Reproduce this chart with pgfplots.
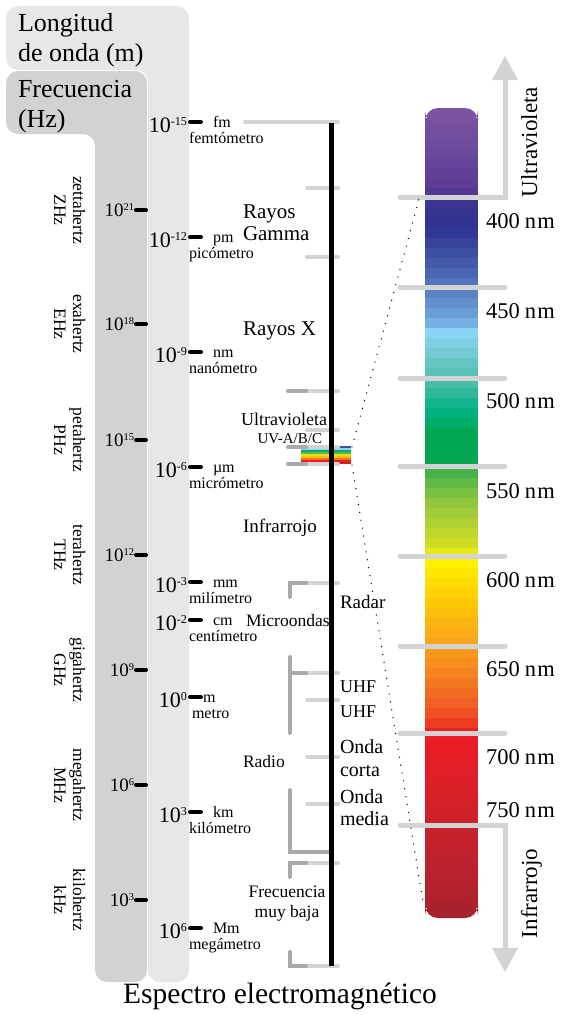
\documentclass[border=0pt]{standalone}
\usepackage{fontspec}
\setmainfont{Liberation Serif}
\usepackage{pgfplots}
\pgfplotsset{compat=1.18}

\definecolor{panelA}{RGB}{230,231,232}
\definecolor{panelB}{RGB}{209,210,212}
\definecolor{tickL}{RGB}{209,211,212}
\definecolor{tickD}{RGB}{167,169,172}
\definecolor{capTop}{RGB}{125,83,161}
\definecolor{capBot}{RGB}{168,34,45}

\newcommand\fsz[2]{\fontsize{#1bp}{#2bp}\selectfont}
\newcommand\sups[1]{\raisebox{0.3em}{\scalebox{0.55}{#1}}}

\tikzset{
  gt/.style={draw=tickL, line width=4bp, line cap=round},
  gd/.style={draw=tickD, line width=4bp, line cap=round},
  bk/.style={draw=black, line width=4bp, line cap=round},
  t/.style={inner sep=0pt, outer sep=0pt},
}

\begin{document}
\begin{tikzpicture}
\begin{axis}[
  scale only axis, width=562bp, height=1015bp,
  xmin=0, xmax=562, ymin=0, ymax=1015, y dir=reverse,
  hide axis, clip=false,
  point meta min=108, point meta max=918,
  colormap={spec}{[1pt]
    rgb255(0pt)=(125,83,161) rgb255(42pt)=(106,74,156) rgb255(82pt)=(91,58,149)
    rgb255(92pt)=(63,53,144) rgb255(119pt)=(46,49,146) rgb255(142pt)=(59,77,160)
    rgb255(167pt)=(75,103,178) rgb255(187pt)=(91,134,197) rgb255(212pt)=(111,166,220)
    rgb255(225pt)=(138,213,247) rgb255(237pt)=(126,207,223) rgb255(254pt)=(102,197,196)
    rgb255(277pt)=(70,190,165) rgb255(302pt)=(0,179,134) rgb255(325pt)=(0,166,81)
    rgb255(354pt)=(0,166,81) rgb255(364pt)=(67,176,74) rgb255(392pt)=(141,198,63)
    rgb255(432pt)=(200,217,43) rgb255(454pt)=(255,242,0) rgb255(492pt)=(255,203,5)
    rgb255(532pt)=(250,166,26) rgb255(567pt)=(245,130,32) rgb255(607pt)=(238,80,36)
    rgb255(627pt)=(237,28,36) rgb255(682pt)=(218,31,40) rgb255(732pt)=(196,34,45)
    rgb255(810pt)=(168,34,45)},
]
% keep the full frame in the bounding box
\addplot[draw=none] coordinates {(0,0) (562,1015)};

% panels
\addplot[fill=panelA, draw=none, rounded corners=12bp] coordinates
  {(100,6) (189,6) (189,982) (148,982) (148,70) (6,70) (6,6) (100,6)};
\addplot[fill=panelB, draw=none, rounded corners=12bp] coordinates
  {(70,71) (147,71) (147,982) (95,982) (95,134) (6,134) (6,71) (70,71)};

\node[t, anchor=base west, font=\fsz{26}{30}] at (18,31) {Longitud};
\node[t, anchor=base west, font=\fsz{26}{30}] at (18,61) {de onda (m)};
\node[t, anchor=base west, font=\fsz{26}{30}] at (18,97) {Frecuencia};
\node[t, anchor=base west, font=\fsz{26}{30}] at (18,127) {(Hz)};

% frequency scale
\addplot[bk] coordinates {(136,210) (146,210)};
\addplot[bk] coordinates {(136,324) (146,324)};
\addplot[bk] coordinates {(136,440) (146,440)};
\addplot[bk] coordinates {(136,555) (146,555)};
\addplot[bk] coordinates {(136,670) (146,670)};
\addplot[bk] coordinates {(136,785) (146,785)};
\addplot[bk] coordinates {(136,900) (146,900)};
\node[t, anchor=base east, font=\fsz{19}{22}] at (134,216) {10\sups{21}};
\node[t, anchor=base east, font=\fsz{19}{22}] at (134,330) {10\sups{18}};
\node[t, anchor=base east, font=\fsz{19}{22}] at (134,446) {10\sups{15}};
\node[t, anchor=base east, font=\fsz{19}{22}] at (134,561) {10\sups{12}};
\node[t, anchor=base east, font=\fsz{19}{22}] at (134,676) {10\sups{9}};
\node[t, anchor=base east, font=\fsz{19}{22}] at (134,791) {10\sups{6}};
\node[t, anchor=base east, font=\fsz{19}{22}] at (134,906) {10\sups{3}};

\tikzset{fq/.style={t, anchor=base, rotate=-90, font=\fsz{17.5}{20}}}
\node[fq] at (73,210) {zettahertz}; \node[fq] at (54,210) {ZHz};
\node[fq] at (73,324) {exahertz};   \node[fq] at (54,324) {EHz};
\node[fq] at (73,440) {petahertz};  \node[fq] at (54,440) {PHz};
\node[fq] at (73,555) {terahertz};  \node[fq] at (54,555) {THz};
\node[fq] at (73,670) {gigahertz};  \node[fq] at (54,670) {GHz};
\node[fq] at (73,785) {megahertz};  \node[fq] at (54,785) {MHz};
\node[fq] at (73,900) {kilohertz};  \node[fq] at (54,900) {kHz};

% wavelength scale
\addplot[bk] coordinates {(190,122) (201,122)};
\addplot[bk] coordinates {(190,237) (201,237)};
\addplot[bk] coordinates {(190,352) (201,352)};
\addplot[bk] coordinates {(190,467) (201,467)};
\addplot[bk] coordinates {(190,582) (201,582)};
\addplot[bk] coordinates {(190,620) (201,620)};
\addplot[bk] coordinates {(190,697) (201,697)};
\addplot[bk] coordinates {(190,812) (201,812)};
\addplot[bk] coordinates {(190,928) (201,928)};
\tikzset{wl/.style={t, anchor=base east, font=\fsz{22}{26}},
         un/.style={t, anchor=base west, font=\fsz{16}{19}}}
\node[wl] at (187,132) {10\sups{-15}};
\node[wl] at (187,247) {10\sups{-12}};
\node[wl] at (187,362) {10\sups{-9}};
\node[wl] at (187,477) {10\sups{-6}};
\node[wl] at (187,592) {10\sups{-3}};
\node[wl] at (187,630) {10\sups{-2}};
\node[wl] at (187,707) {10\sups{0}};
\node[wl] at (187,822) {10\sups{3}};
\node[wl] at (187,938) {10\sups{6}};
\node[un] at (213,127) {fm}; \node[un] at (189,143) {femtómetro};
\node[un] at (213,242) {pm}; \node[un] at (189,258) {picómetro};
\node[un] at (213,357) {nm}; \node[un] at (189,373) {nanómetro};
\node[un] at (213,472) {µm}; \node[un] at (189,488) {micrómetro};
\node[un] at (213,587) {mm}; \node[un] at (189,603) {milímetro};
\node[un] at (213,625) {cm}; \node[un] at (189,641) {centímetro};
\node[un] at (203,702) {m};  \node[un] at (192,718) {metro};
\node[un] at (213,817) {km}; \node[un] at (189,833) {kilómetro};
\node[un] at (213,933) {Mm}; \node[un] at (189,949) {megámetro};

% small rainbow on the spectrum line
\addplot[mesh, line width=50bp, point meta=explicit, shader=flat] coordinates {
  (326,446) [230] (326,448) [280] (326,450) [390] (326,452) [445] (326,454) [520]
  (326,456) [575] (326,458) [650] (326,460) [720] (326,462) [770] (326,464) [820]};

% band boundaries
\addplot[gt] coordinates {(245,122) (338,122)};
\addplot[gt] coordinates {(307,188) (338,188)};
\addplot[gt] coordinates {(307,257) (338,257)};
\addplot[gt] coordinates {(306,391) (338,391)};
\addplot[gd] coordinates {(288,391) (306,391)};
\addplot[gt] coordinates {(307,430) (338,430)};
\addplot[gt] coordinates {(306,447) (338,447)};
\addplot[gd] coordinates {(288,447) (306,447)};
\addplot[gt] coordinates {(306,464) (338,464)};
\addplot[gd] coordinates {(288,464) (306,464)};
\addplot[gt] coordinates {(306,583) (338,583)};
\addplot[gd] coordinates {(306,583) (290,583) (290,597)};
\addplot[gt] coordinates {(306,673) (338,673)};
\addplot[gd] coordinates {(306,673) (290,673)};
\addplot[gd] coordinates {(290,657) (290,733)};
\addplot[gt] coordinates {(307,700) (338,700)};
\addplot[gt] coordinates {(307,757) (338,757)};
\addplot[gt] coordinates {(307,804) (338,804)};
\addplot[gd] coordinates {(290,790) (290,852) (331,852)};
\addplot[gt] coordinates {(306,863) (338,863)};
\addplot[gd] coordinates {(306,863) (290,863) (290,877)};
\addplot[gt] coordinates {(306,966) (338,966)};
\addplot[gd] coordinates {(306,966) (290,966) (290,952)};

% main line
\addplot[draw=black, line width=4.5bp] coordinates {(331.5,123) (331.5,966)};

% band names
\tikzset{bn/.style={t, anchor=base west}}
\node[bn, font=\fsz{21}{24}] at (243,218) {Rayos};
\node[bn, font=\fsz{21}{24}] at (243,240) {Gamma};
\node[bn, font=\fsz{21}{24}] at (243,335) {Rayos X};
\node[t, anchor=base east, font=\fsz{18}{21}] at (327,425) {Ultravioleta};
\node[t, anchor=base east, font=\fsz{15}{18}] at (322,443) {UV-A/B/C};
\node[bn, font=\fsz{19}{22}] at (243,532) {Infrarrojo};
\node[bn, font=\fsz{17.5}{21}] at (246,626) {Microondas};
\node[bn, font=\fsz{19}{22}] at (340,608) {Radar};
\node[bn, font=\fsz{18}{21}] at (340,692) {UHF};
\node[bn, font=\fsz{18}{21}] at (340,717) {UHF};
\node[bn, font=\fsz{20}{23}] at (340,753) {Onda};
\node[bn, font=\fsz{20}{23}] at (340,776) {corta};
\node[bn, font=\fsz{20}{23}] at (340,803) {Onda};
\node[bn, font=\fsz{20}{23}] at (340,825) {media};
\node[bn, font=\fsz{17.5}{21}] at (243,767) {Radio};
\node[t, anchor=base, font=\fsz{17.5}{21}] at (287,897) {Frecuencia};
\node[t, anchor=base, font=\fsz{17.5}{21}] at (287,917) {muy baja};

% visible spectrum bar
\addplot[mesh, line width=53bp, point meta=y, shader=flat] coordinates {
  (451.5,118) (451.5,128) (451.5,138) (451.5,148) (451.5,158) (451.5,168) (451.5,178) (451.5,188)
  (451.5,198) (451.5,208) (451.5,218) (451.5,228) (451.5,238) (451.5,248) (451.5,258) (451.5,268)
  (451.5,278) (451.5,288) (451.5,298) (451.5,308) (451.5,318) (451.5,328) (451.5,338) (451.5,348)
  (451.5,358) (451.5,368) (451.5,378) (451.5,388) (451.5,398) (451.5,408) (451.5,418) (451.5,428)
  (451.5,438) (451.5,448) (451.5,458) (451.5,468) (451.5,478) (451.5,488) (451.5,498) (451.5,508)
  (451.5,518) (451.5,528) (451.5,538) (451.5,548) (451.5,558) (451.5,568) (451.5,578) (451.5,588)
  (451.5,598) (451.5,608) (451.5,618) (451.5,628) (451.5,638) (451.5,648) (451.5,658) (451.5,668)
  (451.5,678) (451.5,688) (451.5,698) (451.5,708) (451.5,718) (451.5,728) (451.5,738) (451.5,748)
  (451.5,758) (451.5,768) (451.5,778) (451.5,788) (451.5,798) (451.5,808) (451.5,818) (451.5,828)
  (451.5,838) (451.5,848) (451.5,858) (451.5,868) (451.5,878) (451.5,888) (451.5,898) (451.5,908)};
\addplot[fill=capTop, draw=none, rounded corners=13bp] coordinates
  {(425,124) (425,108) (478,108) (478,124)} -- cycle;
\addplot[fill=capBot, draw=none, rounded corners=13bp] coordinates
  {(425,902) (425,918) (478,918) (478,902)} -- cycle;

% nm lines and arrows
\tikzset{nl/.style={draw=tickL, line width=5bp, line cap=round}}
\addplot[nl] coordinates {(400,197) (505,197) (505,80)};
\addplot[fill=tickL, draw=none] coordinates {(492,80) (518,80) (505,56)} -- cycle;
\addplot[nl] coordinates {(400,287) (505,287)};
\addplot[nl] coordinates {(400,378) (505,378)};
\addplot[nl] coordinates {(400,466) (505,466)};
\addplot[nl] coordinates {(400,556) (505,556)};
\addplot[nl] coordinates {(400,646) (505,646)};
\addplot[nl] coordinates {(400,733) (505,733)};
\addplot[nl] coordinates {(400,825) (505,825) (505,948)};
\addplot[fill=tickL, draw=none] coordinates {(492,948) (518,948) (505,972)} -- cycle;

\tikzset{nm/.style={t, anchor=base west, font=\fsz{22.5}{26}}}
\node[nm] at (486,228) {400\hspace{5bp}n\hspace{1.5bp}m};
\node[nm] at (486,318) {450\hspace{5bp}n\hspace{1.5bp}m};
\node[nm] at (486,408) {500\hspace{5bp}n\hspace{1.5bp}m};
\node[nm] at (486,498) {550\hspace{5bp}n\hspace{1.5bp}m};
\node[nm] at (486,587) {600\hspace{5bp}n\hspace{1.5bp}m};
\node[nm] at (486,676) {650\hspace{5bp}n\hspace{1.5bp}m};
\node[nm] at (486,764) {700\hspace{5bp}n\hspace{1.5bp}m};
\node[nm] at (486,817) {750\hspace{5bp}n\hspace{1.5bp}m};

\node[t, anchor=base west, rotate=90, font=\fsz{23}{26}] at (537,197) {Ultravioleta};
\node[t, anchor=base west, rotate=90, font=\fsz{23}{26}] at (537,938) {Infrarrojo};

% zoom guides
\tikzset{dl/.style={draw=black, line width=1.4bp, line cap=round, dash pattern=on 0pt off 8bp}}
\addplot[dl] coordinates {(352,447) (419,199)};
\addplot[dl] coordinates {(352,465) (423,902)};

\node[t, anchor=base, font=\fsz{29.5}{33}] at (280,1003) {Espectro electromagnético};
\end{axis}
\end{tikzpicture}
\end{document}
